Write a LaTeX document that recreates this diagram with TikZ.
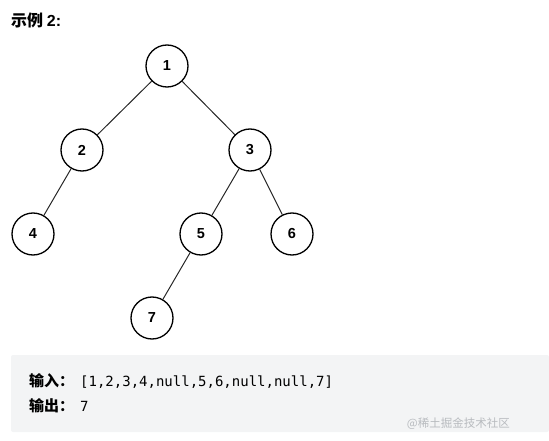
\documentclass[tikz,border=0pt]{standalone}
\usepackage{fontspec}
\setsansfont{Liberation Sans}
\setmonofont{DejaVu Sans Mono}
\newfontfamily\cjk{Noto Sans CJK SC}
\definecolor{boxgray}{HTML}{F3F4F5}
\definecolor{markgray}{HTML}{B8BBBF}
\begin{document}
\begin{tikzpicture}[x=1pt,y=-1pt,
  tnode/.style={circle,draw,line width=1.3pt,minimum size=42pt,inner sep=0pt,
    font=\sffamily\bfseries\fontsize{14.5}{16}\selectfont},
  edge/.style={line width=1pt,draw=black!85}]
  \useasboundingbox (0,0) rectangle (549,441);
  % title
  \node[anchor=base west,inner sep=0pt] (title) at (11,27)
    {\fontsize{16}{18}\selectfont\cjk\bfseries 示例 \sffamily 2:};
  % tree
  \node[tnode] (n1) at (167,66) {1};
  \node[tnode] (n2) at (82,150) {2};
  \node[tnode] (n3) at (250,150) {3};
  \node[tnode] (n4) at (33,234) {4};
  \node[tnode] (n5) at (201,234) {5};
  \node[tnode] (n6) at (292,234) {6};
  \node[tnode] (n7) at (152,318) {7};
  \draw[edge] (n1) -- (n2);
  \draw[edge] (n1) -- (n3);
  \draw[edge] (n2) -- (n4);
  \draw[edge] (n3) -- (n5);
  \draw[edge] (n3) -- (n6);
  \draw[edge] (n5) -- (n7);
  % example box
  \fill[boxgray,rounded corners=2pt] (11,355) rectangle (549,432);
  \node[anchor=base west,inner sep=0pt] (inlabel) at (29,386)
    {\fontsize{15}{17}\selectfont\cjk\bfseries 输入：};
  \node[anchor=base west,inner sep=0pt] (invalue) at (80,386)
    {\fontsize{14}{16}\selectfont\ttfamily [1,2,3,4,null,5,6,null,null,7]};
  \node[anchor=base west,inner sep=0pt] (outlabel) at (29,411)
    {\fontsize{15}{17}\selectfont\cjk\bfseries 输出：};
  \node[anchor=base west,inner sep=0pt] (outvalue) at (80,411)
    {\fontsize{14}{16}\selectfont\ttfamily 7};
  \node[anchor=base east,inner sep=0pt,text=markgray] (mark) at (510,427)
    {\fontsize{11.5}{13}\selectfont\cjk @稀土掘金技术社区};
\end{tikzpicture}
\end{document}
